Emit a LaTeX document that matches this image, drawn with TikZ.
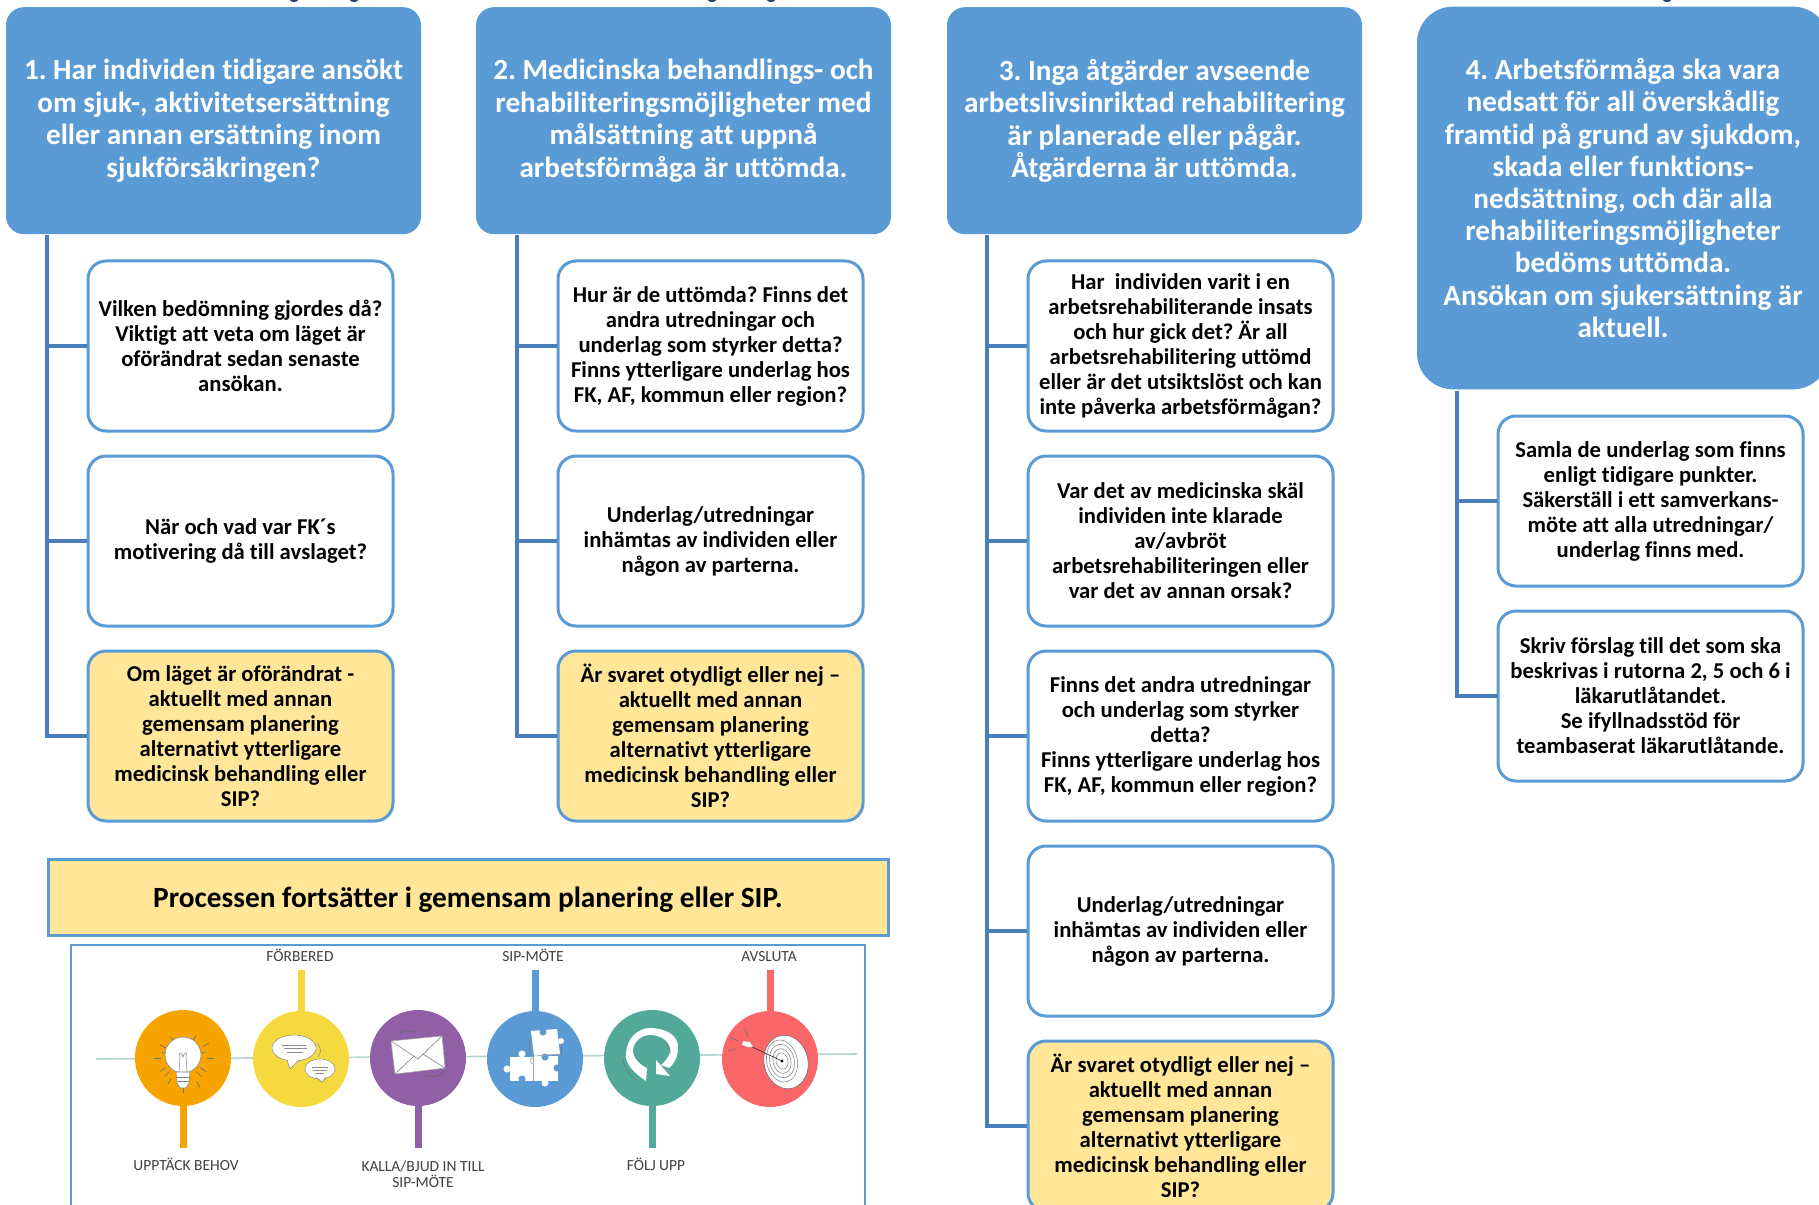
\documentclass[tikz,border=0pt]{standalone}
\usepackage{fontspec}
\setmainfont{Carlito}[Ligatures=NoCommon]
\frenchspacing
\definecolor{hblue}{HTML}{5B9BD5}
\definecolor{trunk}{HTML}{4A7EBB}
\definecolor{yfill}{HTML}{FFE699}
\definecolor{tline}{HTML}{B9D4D2}
\definecolor{corange}{HTML}{F7A400}
\definecolor{cyellow}{HTML}{F6D93F}
\definecolor{cpurple}{HTML}{915FA5}
\definecolor{cgreen}{HTML}{52A899}
\definecolor{cred}{HTML}{FB6768}
\definecolor{navy}{HTML}{1F3F77}
\definecolor{lab}{HTML}{404040}
\tikzset{
  x=0.75pt,y=-0.75pt,
  header/.style={fill=hblue,rounded corners=13.5pt,text=white,align=center,inner sep=0pt,
    minimum width=311.25pt,minimum height=170.25pt,font=\fontsize{21.9}{24.3}\selectfont\frenchspacing\bfseries},
  qbox/.style={draw=hblue,line width=2.25pt,fill=white,rounded corners=13.5pt,align=center,inner sep=0pt,
    minimum width=228.75pt,minimum height=127.5pt,text=black,font=\fontsize{17}{18.75}\selectfont\frenchspacing\bfseries},
  ybox/.style={qbox,fill=yfill},
  trunkline/.style={draw=trunk,line width=2.4pt},
  banner/.style={draw=hblue,line width=2.25pt,fill=yfill,inner sep=0pt,minimum width=630pt,minimum height=57pt,
    text height=18pt,text depth=2pt,font=\fontsize{22}{24}\selectfont\bfseries},
  frame/.style={draw=hblue,line width=1.8pt,fill=white,inner sep=0pt,minimum width=595.5pt,minimum height=210pt},
  disc/.style={circle,inner sep=0pt,minimum size=72pt},
  stem/.style={line width=5.25pt},
  steplab/.style={text=lab,align=center,inner sep=0pt,font=\fontsize{11.6}{12}\selectfont},
  oneline/.style={steplab,text height=8pt,text depth=2pt},
}
\begin{document}
\begin{tikzpicture}
\useasboundingbox (0,0) rectangle (1819,1205);
\clip (0,0) rectangle (1819,1205);
\fill[white] (0,0) rectangle (1819,1205);
% cut-off title remnants at the upper edge
\foreach \fx in {294,354,712,771,1667}{\fill[navy] (\fx,0) ellipse [x radius=4,y radius=2];}
% headers
\node[header] (h1) at (213.5,120.7) {1. Har individen tidigare ansökt\\om sjuk-, aktivitetsersättning\\eller annan ersättning inom\\sjukförsäkringen?};
\node[header] (h2) at (683.5,120.7) {2. Medicinska behandlings- och\\rehabiliteringsmöjligheter med\\målsättning att uppnå\\arbetsförmåga är uttömda.};
\node[header] (h3) at (1154.5,120.7) {3. Inga åtgärder avseende\\arbetslivsinriktad rehabilitering\\är planerade eller pågår.\\Åtgärderna är uttömda.};
\node[header,rounded corners=27pt,minimum height=287pt,minimum width=309pt,font=\fontsize{21.9}{24.15}\selectfont\frenchspacing\bfseries] (h4) at (1623,198) {4. Arbetsförmåga ska vara\\nedsatt för all överskådlig\\framtid på grund av sjukdom,\\skada eller funktions-\\nedsättning, och där alla\\rehabiliteringsmöjligheter\\bedöms uttömda.\\Ansökan om sjukersättning är\\aktuell.};
% trunk starts
\coordinate (t1) at (47,235);
\coordinate (t2) at (517,235);
\coordinate (t3) at (987,235);
\coordinate (t4) at (1457,391);
% column 1
\node[qbox] (a1) at (240.5,346) {Vilken bedömning gjordes då?\\Viktigt att veta om läget är\\oförändrat sedan senaste\\ansökan.};
\node[qbox] (a2) at (240.5,541) {När och vad var FK´s\\motivering då till avslaget?};
\node[ybox] (a3) at (240.5,736) {Om läget är oförändrat -\\aktuellt med annan\\gemensam planering\\alternativt ytterligare\\medicinsk behandling eller\\SIP?};
% column 2
\node[qbox] (b1) at (710.5,346) {Hur är de uttömda? Finns det\\andra utredningar och\\underlag som styrker detta?\\Finns ytterligare underlag hos\\FK, AF, kommun eller region?};
\node[qbox] (b2) at (710.5,541) {Underlag/utredningar\\inhämtas av individen eller\\någon av parterna.};
\node[ybox] (b3) at (710.5,736) {Är svaret otydligt eller nej –\\aktuellt med annan\\gemensam planering\\alternativt ytterligare\\medicinsk behandling eller\\SIP?};
% column 3
\node[qbox] (c1) at (1180.5,346) {Har\ \ individen varit i en\\arbetsrehabiliterande insats\\och hur gick det? Är all\\arbetsrehabilitering uttömd\\eller är det utsiktslöst och kan\\inte påverka arbetsförmågan?};
\node[qbox] (c2) at (1180.5,541) {Var det av medicinska skäl\\individen inte klarade\\av/avbröt\\arbetsrehabiliteringen eller\\var det av annan orsak?};
\node[qbox] (c3) at (1180.5,736) {Finns det andra utredningar\\och underlag som styrker\\detta?\\Finns ytterligare underlag hos\\FK, AF, kommun eller region?};
\node[qbox] (c4) at (1180.5,931) {Underlag/utredningar\\inhämtas av individen eller\\någon av parterna.};
\node[ybox] (c5) at (1180.5,1126) {Är svaret otydligt eller nej –\\aktuellt med annan\\gemensam planering\\alternativt ytterligare\\medicinsk behandling eller\\SIP?};
% column 4
\node[qbox] (d1) at (1650.5,501) {Samla de underlag som finns\\enligt tidigare punkter.\\Säkerställ i ett samverkans-\\möte att alla utredningar/\\underlag finns med.};
\node[qbox] (d2) at (1650.5,696) {Skriv förslag till det som ska\\beskrivas i rutorna 2, 5 och 6 i\\läkarutlåtandet.\\Se ifyllnadsstöd för\\teambaserat läkarutlåtande.};
% connectors
\foreach \n in {a1,a2,a3}{\draw[trunkline] (t1) |- (\n.west);}
\foreach \n in {b1,b2,b3}{\draw[trunkline] (t2) |- (\n.west);}
\foreach \n in {c1,c2,c3,c4,c5}{\draw[trunkline] (t3) |- (\n.west);}
\foreach \n in {d1,d2}{\draw[trunkline] (t4) |- (\n.west);}
% banner
\node[banner] (ban) at (468,897) {Processen fortsätter i gemensam planering eller SIP.};
% SIP panel
\node[frame] (panel) at (468,1085) {};
\coordinate (la) at (96,1059);
\coordinate (lb) at (857,1054);
\draw[tline,line width=1.2pt] (la) -- (lb);
\coordinate (s1) at (183,1148);
\coordinate (s2) at (301,970);
\coordinate (s3) at (418,1148);
\coordinate (s4) at (535,970);
\coordinate (s5) at (652,1148);
\coordinate (s6) at (770,970);
\node[disc,fill=corange] (e1) at (183,1058) {};
\node[disc,fill=cyellow] (e2) at (301,1059) {};
\node[disc,fill=cpurple] (e3) at (418,1058) {};
\node[disc,fill=hblue] (e4) at (535,1059) {};
\node[disc,fill=cgreen] (e5) at (652,1058) {};
\node[disc,fill=cred] (e6) at (770,1059) {};
\draw[stem,draw=corange] (s1) -- (e1);
\draw[stem,draw=cyellow] (s2) -- (e2);
\draw[stem,draw=cpurple] (s3) -- (e3);
\draw[stem,draw=hblue] (s4) -- (e4);
\draw[stem,draw=cgreen] (s5) -- (e5);
\draw[stem,draw=cred] (s6) -- (e6);
\node[oneline] (l2) at (300,957) {FÖRBERED};
\node[oneline] (l4) at (533,957) {SIP-MÖTE};
\node[oneline] (l6) at (769,957) {AVSLUTA};
\node[oneline] (l1) at (186,1166) {UPPTÄCK BEHOV};
\node[steplab] (l3) at (423,1174) {KALLA/BJUD IN TILL\\SIP-MÖTE};
\node[oneline] (l5) at (656,1166) {FÖLJ UPP};
% bulb
\begin{scope}[shift={(e1)}]
  \foreach \a/\r in {90/35,60/34,30/27,0/31,-30/30,-60/26,120/30,150/27,180/29,210/27,240/25,-15/24,195/22,45/26,135/26}{
    \draw[black!55,line width=0.5pt] (\a:\r-7) -- (\a:\r);
  }
  \fill[white,draw=black!50,line width=0.4pt] (0,-3) circle (18);
  \fill[white,draw=black!50,line width=0.4pt] (-7,14) -- (7,14) -- (6,25) -- (3,30) -- (-3,30) -- (-6,25) -- cycle;
  \draw[black!50,line width=0.4pt] (-6,19) -- (6,19) (-6,23) -- (6,23);
  \draw[black!50,line width=0.4pt] (-4,14) -- (-3,-2) (4,14) -- (3,-2) (-3,-2) .. controls (-5,-6) and (-1,-6) .. (0,-1) .. controls (1,-6) and (5,-6) .. (3,-2);
\end{scope}
% speech bubbles
\begin{scope}[shift={(e2)}]
  \fill[white,draw=black!45,line width=0.4pt] (-7,-11) ellipse [x radius=22,y radius=13];
  \fill[white] (-14,0) -- (-11,10) -- (-2,1) -- cycle;
  \draw[black!45,line width=0.4pt] (-14,1) -- (-11,10) -- (-2,1);
  \draw[black!45,line width=0.5pt] (-19,-14) -- (5,-14) (-17,-11) -- (6,-11) (-14,-7) -- (2,-7);
  \fill[white,draw=black!45,line width=0.4pt] (19,10) ellipse [x radius=15,y radius=10];
  \fill[white] (16,18) -- (21,23) -- (24,18) -- cycle;
  \draw[black!45,line width=0.4pt] (15,18.5) -- (21,23) -- (25,18.5);
  \draw[black!45,line width=0.5pt] (11,8) -- (27,8) (12,11) -- (26,11) (15,14) -- (23,14);
  \draw[black!45,line width=0.4pt] (16,-16) .. controls (21,-10) and (20,-6) .. (17,-2);
\end{scope}
% envelope
\begin{scope}[shift={(e3)}]
  \fill[white,draw=black!35,line width=0.4pt] (-27,-17) -- (24,-22) -- (27,10) -- (-23,16) -- cycle;
  \draw[black!45,line width=0.5pt] (-27,-17) -- (0,1) -- (24,-22) (-23,16) -- (-4,-2) (27,10) -- (5,-4);
  \draw[black!60,line width=0.5pt] (-18,-25) .. controls (-14,-28) and (-8,-28) .. (-2,-26) (8,17) .. controls (14,20) and (20,18) .. (26,15);
\end{scope}
% puzzle
\begin{scope}[shift={(e4)}]
  \fill[white] (-4,-28) -- (22,-30) -- (25,-5) -- (-1,-3) -- cycle;
  \fill[white] (-25,-2) rectangle (-2,22);
  \fill[white] (-1,-3) rectangle (23,22);
  \fill[white] (-13,-5) circle (3.5) (-28,10) circle (3.5) (10,24) circle (3.5) (26,-18) circle (3) ;
  \fill[hblue] (8,-27) circle (3.5) (10,-2) circle (3.5) (22,9) circle (3.5) (-13,20) circle (3.5);
  \draw[black!35,line width=0.4pt] (-1.5,-3) -- (-1.5,22) (-1,-3) -- (25,-5);
  \draw[black!35,line width=0.4pt] (-2,5) arc (90:270:3);
  \draw[black!55,line width=0.4pt] (-6,-20) -- (-5,-3) (26,-15) -- (27,-4);
\end{scope}
% loop arrow
\begin{scope}[shift={(e5)}]
  \fill[white] (-6,23) .. controls (-18,15) and (-28,5) .. (-26,-5)
    .. controls (-25,-20) and (-14,-30) .. (-2,-30)
    .. controls (14,-30) and (27,-22) .. (26,-10)
    .. controls (26,-2) and (23,5) .. (17,10)
    -- (9,7) .. controls (15,2) and (19,-4) .. (18,-10)
    .. controls (16,-18) and (8,-23) .. (-2,-23)
    .. controls (-11,-23) and (-19,-16) .. (-19,-7)
    .. controls (-19,0) and (-12,7) .. (-5,10) -- cycle;
  \fill[white] (4,2) -- (4,16) -- (18,18) -- cycle;
  \draw[black!55,line width=0.4pt] (-29,1) .. controls (-28,10) and (-22,18) .. (-16,22)
    (13,-16) .. controls (17,-12) and (19,-8) .. (18,-4);
\end{scope}
% target
\begin{scope}[shift={(e6)}]
  \fill[white,draw=black!60,line width=0.4pt,rotate around={12:(16,3)}] (16,3) ellipse [x radius=22,y radius=27];
  \foreach \k in {0.85,0.68,0.5,0.33}{
    \draw[black!50,line width=0.4pt,rotate around={12:(12,2)}] (12,2) ellipse [x radius=18*\k,y radius=25*\k];
  }
  \fill[black] (12,2) circle (1.6);
  \draw[black!80,line width=0.5pt] (12,2) -- (-20,-13);
  \fill[white,draw=black!30,line width=0.3pt] (-27,-18) -- (-20,-17) -- (-17,-12) -- (-22,-12) -- (-28,-14) -- cycle;
  \draw[black!55,line width=0.5pt] (-40,-22) -- (-32,-18) (-25,-30) -- (-22,-22) (-42,-8) -- (-34,-10);
\end{scope}
\end{tikzpicture}
\end{document}
